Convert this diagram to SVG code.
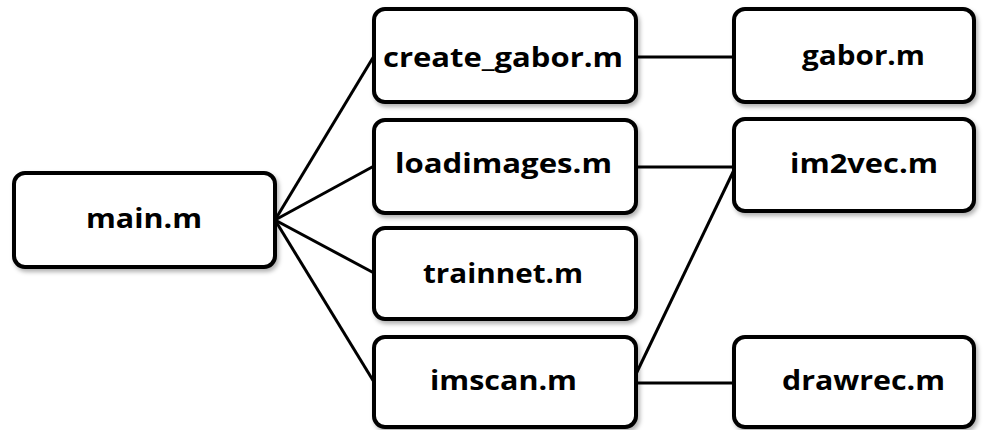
<svg xmlns="http://www.w3.org/2000/svg" width="987" height="430" viewBox="0 0 987 430">
  <style>
    .box { fill: #ffffff; stroke: #000000; stroke-width: 4; }
    .lbl { font-family: "Open Sans", "Liberation Sans", sans-serif; font-weight: bold; font-size: 26px; fill: #000000; }
    .edge { stroke: #000000; stroke-width: 3; fill: none; }
  </style>
  <defs>
    <filter id="shadow" x="-10%" y="-10%" width="125%" height="130%">
      <feDropShadow dx="2" dy="3" stdDeviation="2" flood-color="#000000" flood-opacity="0.3"/>
    </filter>
  </defs>
  <rect width="987" height="430" fill="#ffffff"/>

  <g id="connectors">
    <line class="edge" x1="275" y1="220" x2="374" y2="56"/>
    <line class="edge" x1="275" y1="220" x2="374" y2="166"/>
    <line class="edge" x1="275" y1="220" x2="374" y2="273"/>
    <line class="edge" x1="275" y1="220" x2="374" y2="382"/>
    <line class="edge" x1="636" y1="57" x2="734" y2="57"/>
    <line class="edge" x1="636" y1="167" x2="734" y2="167"/>
    <line class="edge" x1="636" y1="374" x2="734" y2="170"/>
    <line class="edge" x1="636" y1="383" x2="734" y2="383"/>
  </g>

  <g id="main">
    <rect class="box" filter="url(#shadow)" x="14" y="173" width="261" height="94" rx="11"/>
    <text class="lbl" x="86" y="228" textLength="116" lengthAdjust="spacingAndGlyphs">main.m</text>
  </g>
  <g id="create_gabor">
    <rect class="box" filter="url(#shadow)" x="374" y="9" width="262" height="93" rx="11"/>
    <text class="lbl" x="383" y="67" textLength="240" lengthAdjust="spacingAndGlyphs">create_gabor.m</text>
  </g>
  <g id="loadimages">
    <rect class="box" filter="url(#shadow)" x="374" y="120" width="262" height="93" rx="11"/>
    <text class="lbl" x="395" y="173" textLength="217" lengthAdjust="spacingAndGlyphs">loadimages.m</text>
  </g>
  <g id="trainnet">
    <rect class="box" filter="url(#shadow)" x="374" y="228" width="262" height="91" rx="11"/>
    <text class="lbl" x="423" y="283" textLength="160" lengthAdjust="spacingAndGlyphs">trainnet.m</text>
  </g>
  <g id="imscan">
    <rect class="box" filter="url(#shadow)" x="374" y="337" width="262" height="90" rx="11"/>
    <text class="lbl" x="430" y="390" textLength="147" lengthAdjust="spacingAndGlyphs">imscan.m</text>
  </g>
  <g id="gabor">
    <rect class="box" filter="url(#shadow)" x="734" y="9" width="240" height="93" rx="11"/>
    <text class="lbl" x="802" y="65" textLength="123" lengthAdjust="spacingAndGlyphs">gabor.m</text>
  </g>
  <g id="im2vec">
    <rect class="box" filter="url(#shadow)" x="734" y="119" width="240" height="92" rx="11"/>
    <text class="lbl" x="790" y="173" textLength="148" lengthAdjust="spacingAndGlyphs">im2vec.m</text>
  </g>
  <g id="drawrec">
    <rect class="box" filter="url(#shadow)" x="734" y="337" width="240" height="90" rx="11"/>
    <text class="lbl" x="782" y="390" textLength="163" lengthAdjust="spacingAndGlyphs">drawrec.m</text>
  </g>
</svg>
